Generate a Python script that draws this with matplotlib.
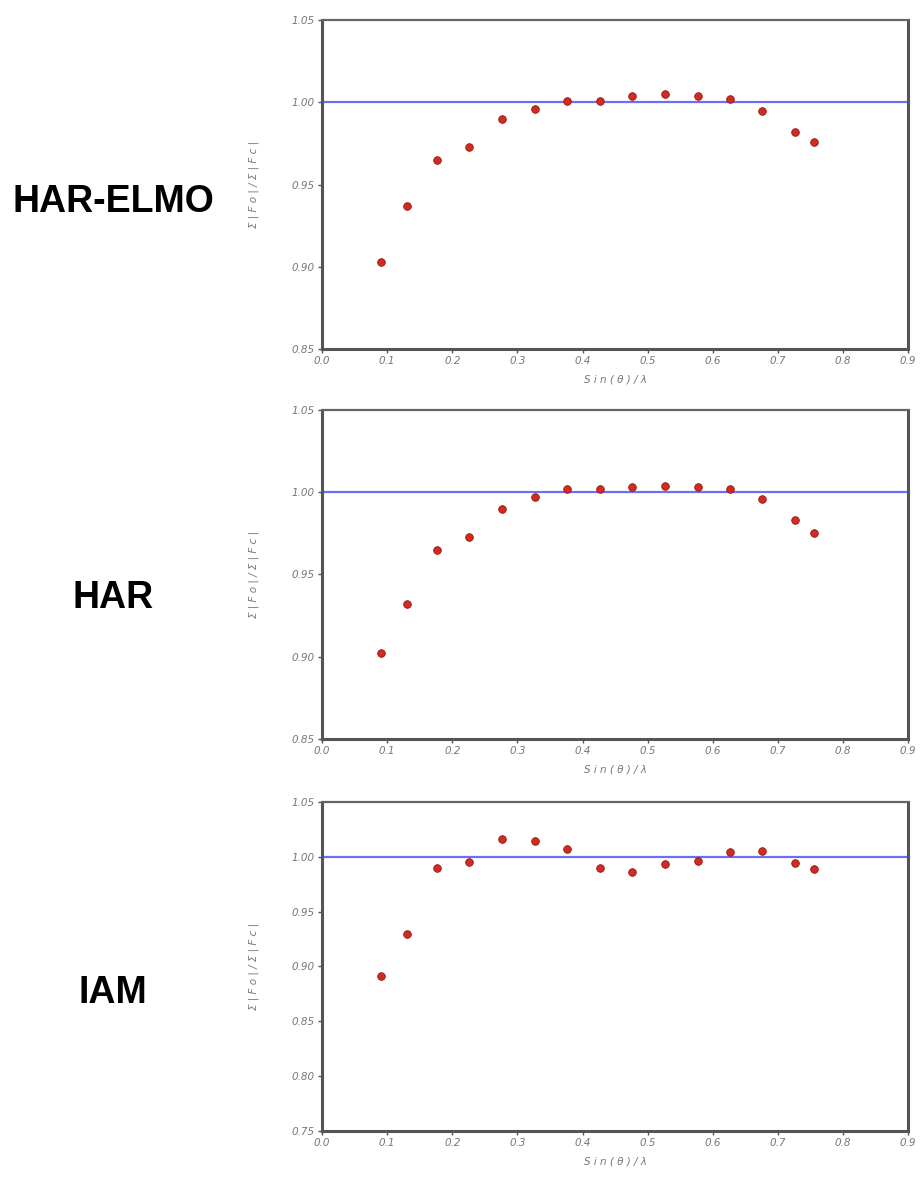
import matplotlib
matplotlib.use("Agg")
import matplotlib.pyplot as plt
import numpy as np

# resolution shells, sin(theta)/lambda
sinth = [0.09, 0.13, 0.177, 0.226, 0.277, 0.327, 0.376, 0.427, 0.476, 0.527, 0.577, 0.627, 0.676, 0.726, 0.755]

ratio_har_elmo = [0.903, 0.937, 0.965, 0.973, 0.990, 0.996, 1.001, 1.001, 1.004, 1.005, 1.004, 1.002, 0.995, 0.982, 0.976]
ratio_har = [0.902, 0.932, 0.965, 0.973, 0.990, 0.997, 1.002, 1.002, 1.003, 1.004, 1.003, 1.002, 0.996, 0.983, 0.975]
ratio_iam = [0.891, 0.930, 0.990, 0.995, 1.016, 1.014, 1.007, 0.990, 0.986, 0.993, 0.996, 1.004, 1.005, 0.994, 0.989]

models = ["HAR-ELMO", "HAR", "IAM"]
ylims = [(0.85, 1.05), (0.85, 1.05), (0.75, 1.05)]
xticks = np.arange(0, 0.91, 0.1)

# axes boxes in figure fraction [left, bottom, width, height]
boxes = [[0.3496, 0.7037, 0.6365, 0.2793],
         [0.3496, 0.3727, 0.6365, 0.2793],
         [0.3496, 0.0399, 0.6365, 0.2793]]
# baseline of the row labels (figure fraction)
label_y = [1 - 212 / 1178, 1 - 608 / 1178, 1 - 1003 / 1178]

fig = plt.figure(figsize=(9.21, 11.78), dpi=100)
tick_color = "#777777"

for i, (name, data) in enumerate(zip(models, [ratio_har_elmo, ratio_har, ratio_iam])):
    ax = fig.add_axes(boxes[i])
    ax.axhline(1.0, color="#6e6ef5", lw=1.6, zorder=1)
    ax.scatter(sinth, data, s=30, color="#d42a20", edgecolors="#8a1a14", linewidths=0.6, zorder=3)
    ax.set_xlim(0, 0.9)
    ax.set_ylim(*ylims[i])
    ax.set_xticks(xticks)
    ax.set_xticklabels(["%.1f" % t for t in xticks])
    yt = np.arange(ylims[i][0], ylims[i][1] + 0.001, 0.05)
    ax.set_yticks(yt)
    ax.set_yticklabels(["%.2f" % t for t in yt])
    for lab in ax.get_xticklabels() + ax.get_yticklabels():
        lab.set_fontstyle("italic")
        lab.set_fontsize(7.5)
        lab.set_color(tick_color)
    ax.tick_params(axis="both", direction="out", length=3, width=1, color="#555555", pad=2)
    for side in ["left", "bottom", "right"]:
        ax.spines[side].set_linewidth(2.2)
        ax.spines[side].set_color("#555555")
    ax.spines["top"].set_linewidth(1.6)
    ax.spines["top"].set_color("#666666")
    ax.set_xlabel("S i n ( θ ) / λ", fontsize=7.5, fontstyle="italic", color=tick_color, labelpad=6)
    ax.set_ylabel("Σ | F o | / Σ | F c |", fontsize=7.5, fontstyle="italic", color=tick_color, labelpad=24)
    fig.text(113 / 921, label_y[i], name, ha="center", va="baseline", fontsize=27,
             fontweight="bold", family="Liberation Sans")

fig.savefig("out.png", dpi=100)
